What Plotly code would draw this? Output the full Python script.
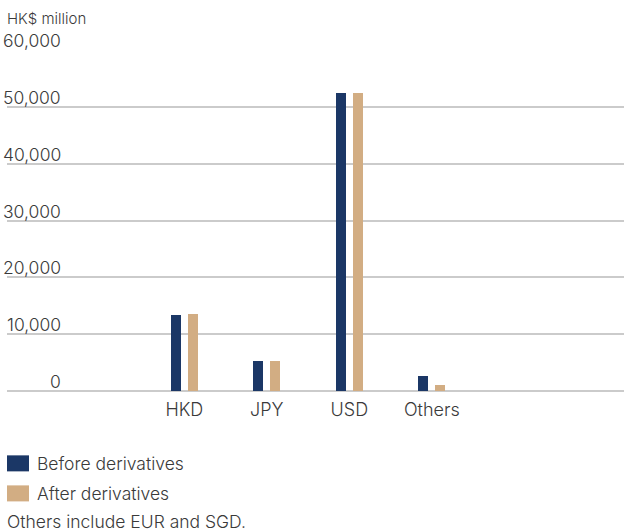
import plotly.graph_objects as go

categories = ["HKD", "JPY", "USD", "Others"]
before_derivatives = [13300, 5200, 52400, 2600]
after_derivatives = [13500, 5200, 52400, 1000]
series_names = ["Before derivatives", "After derivatives"]
y_ticks = [0, 10000, 20000, 30000, 40000, 50000, 60000]
y_tick_labels = ["0", "10,000", "20,000", "30,000", "40,000", "50,000", "60,000"]
unit_label = "HK$ million"
footnote = "Others include EUR and SGD."

NAVY = "#1b3766"
TAN = "#d2ad83"
GRID = "#cbcbcb"
TEXT = "#3a3a3a"
FONT = "Inter"

fig = go.Figure()
fig.add_trace(go.Bar(x=categories, y=before_derivatives, name=series_names[0],
                     marker=dict(color=NAVY, line=dict(width=0)),
                     width=0.121, offset=-0.164, showlegend=False))
fig.add_trace(go.Bar(x=categories, y=after_derivatives, name=series_names[1],
                     marker=dict(color=TAN, line=dict(width=0)),
                     width=0.121, offset=0.042, showlegend=False))

annotations = []
for v, lab in zip(y_ticks, y_tick_labels):
    annotations.append(dict(x=0.0908, xref="paper", y=v, yref="y", text=lab,
                            showarrow=False, xanchor="right", yanchor="bottom",
                            yshift=-3,
                            font=dict(family=FONT, size=17.5, color=TEXT, weight=300)))
annotations.append(dict(x=0, xref="paper", y=1, yref="paper", yshift=32, xshift=-2,
                        text=unit_label, showarrow=False, xanchor="left", yanchor="middle",
                        font=dict(family=FONT, size=15, color=TEXT, weight=300)))

# custom legend
H = 531
plot_top, plot_bot = 50, 140.3
ph = H - plot_top - plot_bot
pw = 617

def px_to_paper_y(py):
    return (H - plot_bot - py) / ph

def px_to_paper_x(px):
    return (px - 7) / pw

shapes = []
legend_rows = [(455, 471, NAVY, series_names[0]), (485, 501, TAN, series_names[1])]
for y0, y1, col, name in legend_rows:
    shapes.append(dict(type="rect", xref="paper", yref="paper",
                       x0=px_to_paper_x(7), x1=px_to_paper_x(29),
                       y0=px_to_paper_y(y1), y1=px_to_paper_y(y0),
                       fillcolor=col, line=dict(width=0)))
    annotations.append(dict(x=px_to_paper_x(35), xref="paper", y=px_to_paper_y((y0 + y1) / 2),
                            yref="paper", text=name, showarrow=False, xanchor="left",
                            yanchor="middle",
                            font=dict(family=FONT, size=17.5, color=TEXT, weight=300)))
annotations.append(dict(x=px_to_paper_x(5), xref="paper", y=px_to_paper_y(521), yref="paper",
                        text=footnote, showarrow=False, xanchor="left", yanchor="middle",
                        font=dict(family=FONT, size=17.5, color=TEXT, weight=300)))

fig.update_layout(
    width=624, height=531,
    margin=dict(l=7, r=0, t=plot_top, b=plot_bot, pad=0),
    paper_bgcolor="white", plot_bgcolor="white",
    showlegend=False,
    bargap=0,
    xaxis=dict(range=[-2.15, 5.33], showgrid=False, zeroline=False, showline=False,
               ticks="", ticklabelstandoff=6,
               tickfont=dict(family=FONT, size=18, color=TEXT, weight=300),
               fixedrange=True),
    yaxis=dict(range=[0, 60000], tickvals=y_ticks, showticklabels=False,
               showgrid=True, gridcolor=GRID, gridwidth=1.5,
               zeroline=True, zerolinecolor=GRID, zerolinewidth=1.5,
               showline=False, ticks="", fixedrange=True),
    annotations=annotations,
    shapes=shapes,
)

fig.write_html("out.html")
